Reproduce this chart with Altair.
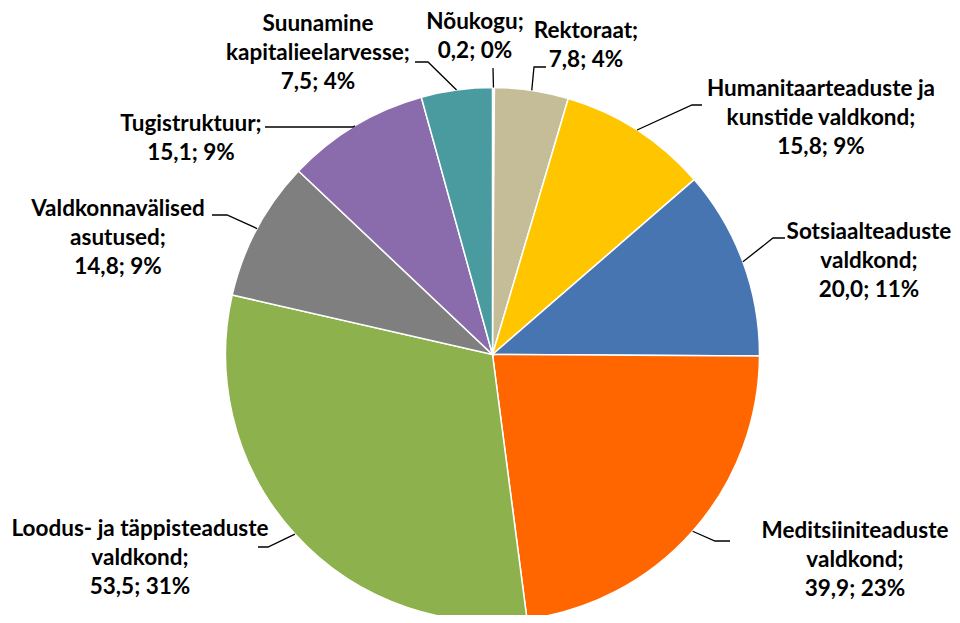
import math
import altair as alt
import pandas as pd

# ---------------- data ----------------
categories = [
    "Nõukogu",
    "Rektoraat",
    "Humanitaarteaduste ja kunstide valdkond",
    "Sotsiaalteaduste valdkond",
    "Meditsiiniteaduste valdkond",
    "Loodus- ja täppisteaduste valdkond",
    "Valdkonnavälised asutused",
    "Tugistruktuur",
    "Suunamine kapitalieelarvesse",
]
label_names = [
    "Nõukogu;",
    "Rektoraat;",
    "Humanitaarteaduste ja\nkunstide valdkond;",
    "Sotsiaalteaduste\nvaldkond;",
    "Meditsiiniteaduste\nvaldkond;",
    "Loodus- ja täppisteaduste\nvaldkond;",
    "Valdkonnavälised\nasutused;",
    "Tugistruktuur;",
    "Suunamine\nkapitalieelarvesse;",
]
values = [0.2, 7.8, 15.8, 20.0, 39.9, 53.5, 14.8, 15.1, 7.5]
percents = ["0%", "4%", "9%", "11%", "23%", "31%", "9%", "9%", "4%"]

# ---------------- style / layout ----------------
colors = ["#E6E2D0", "#C4BD97", "#FFC600", "#4775B2", "#FF6600",
          "#8DB14C", "#7F7F7F", "#8A6CAC", "#4A9B9F"]

W, H, M = 944, 607, 8          # plot size and page margin
CX, CY, R = 492.5, 354.5, 267  # pie centre / radius in page pixels

# label first-line centres (page px)
label_xy = [(475, 22), (586, 31), (821, 89), (869, 232), (855, 531),
            (140, 529), (118, 209), (191, 124), (318, 24)]
# leader elbows and ends (page px)
leader_elbow = [(493, 68), (534, 67), (692, 105), (773, 238), (715, 541),
                (268, 547), (227, 215), (353, 127), (428, 62)]
leader_end = [(493, 68), (546, 67), (702, 105), (785, 238), (730, 541),
              (258, 547), (212, 215), (265, 127), (415, 62)]

total = sum(values)

def fmt(v):
    return f"{v:.1f}".replace(".", ",")

pie_df = pd.DataFrame({
    "cat": categories,
    "value": values,
    "idx": list(range(len(values))),
})

lab_rows = []
line_rows = []
cum = 0.0
for i, (cat, v) in enumerate(zip(categories, values)):
    mid = (cum + v / 2) / total * 2 * math.pi
    cum += v
    sx = CX + R * math.sin(mid)
    sy = CY - R * math.cos(mid)
    lab_rows.append({
        "cat": cat,
        "text": f"{label_names[i]}\n{fmt(v)}; {percents[i]}",
        "x": label_xy[i][0],
        "y": label_xy[i][1],
    })
    pts = [(sx, sy), leader_elbow[i], leader_end[i]]
    for k, (px, py) in enumerate(pts):
        line_rows.append({"cat": cat, "k": k, "x": px, "y": py})

lab_df = pd.DataFrame(lab_rows)
line_df = pd.DataFrame(line_rows)

xs = alt.Scale(domain=[M, M + W], range=[0, W])
ys = alt.Scale(domain=[M, M + H], range=[0, H])

pie = alt.Chart(pie_df).mark_arc(
    radius=R, stroke="white", strokeWidth=1.5
).encode(
    theta=alt.Theta("value:Q", stack=True),
    order=alt.Order("idx:Q"),
    color=alt.Color("cat:N", scale=alt.Scale(domain=categories, range=colors),
                    legend=None),
    x=alt.value(CX - M),
    y=alt.value(CY - M),
)

leaders = alt.Chart(line_df).mark_line(
    color="black", strokeWidth=1.3
).encode(
    x=alt.X("x:Q", scale=xs, axis=None),
    y=alt.Y("y:Q", scale=ys, axis=None),
    detail="cat:N",
    order="k:Q",
)

labels = alt.Chart(lab_df).mark_text(
    font="Lato", fontWeight="bold", fontSize=22.5, lineHeight=29,
    align="center", baseline="middle", lineBreak="\n", color="black",
).encode(
    x=alt.X("x:Q", scale=xs, axis=None),
    y=alt.Y("y:Q", scale=ys, axis=None),
    text="text:N",
)

chart = alt.layer(pie, leaders, labels).properties(
    width=W, height=H, padding=0,
    autosize=alt.AutoSizeParams(type="none"),
).configure_view(stroke=None)

chart.save("out.html", embed_options={"renderer": "svg", "actions": False})
